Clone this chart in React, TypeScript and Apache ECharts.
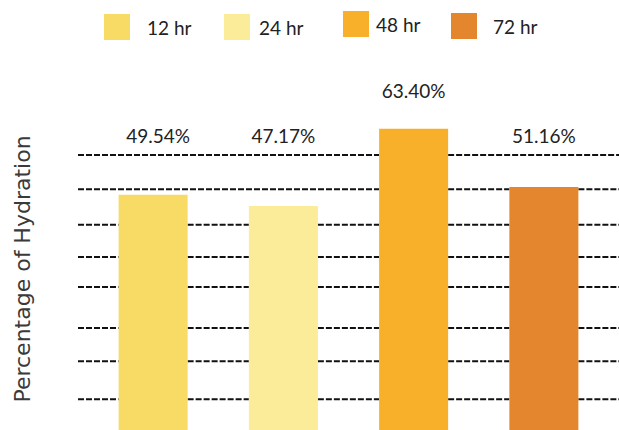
import React, { useEffect, useRef } from "react";
import * as echarts from "echarts";

const categories = ["12 hr", "24 hr", "48 hr", "72 hr"];
const hydration = [49.54, 47.17, 63.4, 51.16];
const gridLineValues = [57.9, 50.7, 43.2, 36.4, 30.1, 21.5, 14.5, 6.5];
const barColors = ["#F7DB64", "#FAEC98", "#F8B02A", "#E3862E"];
const yAxisTitle = "Percentage of Hydration";

const BAR_WIDTH = 69;
const LINE_OVERHANG = 10;
const labelDistance = [50, 61, 29, 42];
const labelOffsetX = [5, 0, 0, 0];
const legendLeft = [104, 224, 343, 451];
const legendTop = [14, 14, 11, 13];
const legendTextGap = [12, 4, 2, 11];

const FONT = "Lato, 'Open Sans', sans-serif";

export default function App() {
  const ref = useRef<HTMLDivElement>(null);
  useEffect(() => {
    if (!ref.current) return;
    const chart = echarts.init(ref.current, undefined, { renderer: "svg" });
    const barSeries = categories.map((name, i) => ({
      type: "bar",
      name,
      stack: "h",
      barWidth: BAR_WIDTH,
      z: 10,
      data: hydration.map((v, j) => (j === i ? v : "-")),
      itemStyle: { color: barColors[i] },
      label: {
        show: true,
        position: "top",
        distance: labelDistance[i],
        offset: [labelOffsetX[i], 0],
        fontFamily: FONT,
        fontSize: 19,
        color: "#222",
        formatter: (p: any) => Number(p.value).toFixed(2) + "%",
      },
    }));
    chart.setOption({
      animation: false,
      color: barColors,
      textStyle: { fontFamily: FONT },
      legend: categories.map((name, i) => ({
        data: [name],
        left: legendLeft[i],
        top: legendTop[i],
        padding: 0,
        itemWidth: 26,
        itemHeight: 26,
        icon: "rect",
        selectedMode: false,
        textStyle: {
          fontFamily: FONT,
          fontSize: 19,
          color: "#222",
          padding: [0, 0, 0, legendTextGap[i]],
        },
      })),
      graphic: [
        {
          type: "text",
          x: 22,
          y: 269,
          rotation: Math.PI / 2,
          style: {
            text: yAxisTitle,
            fontFamily: "'DejaVu Sans', sans-serif",
            fontSize: 22,
            fill: "#3a3a3a",
            align: "center",
            verticalAlign: "middle",
          },
        },
      ],
      grid: { left: 88, right: 10, top: 50, bottom: 0 },
      xAxis: { type: "category", data: categories, show: false },
      yAxis: {
        type: "value",
        min: 0,
        max: 80,
        axisLine: { show: false },
        axisTick: { show: false },
        axisLabel: { show: false },
        splitLine: { show: false },
      },
      series: [
        {
          type: "custom",
          name: "grid",
          z: 1,
          silent: true,
          clip: false,
          dimensions: ["value"],
          encode: { y: 0 },
          data: gridLineValues,
          renderItem: (params: any, api: any) => {
            const v = api.value(0);
            const y = api.coord([0, v])[1];
            const cs = params.coordSys;
            const half = BAR_WIDTH / 2;
            const edges: number[] = [cs.x - LINE_OVERHANG];
            categories.forEach((_, k) => {
              if (v < hydration[k]) {
                const cx = api.coord([k, 0])[0];
                edges.push(cx - half, cx + half);
              }
            });
            edges.push(cs.x + cs.width + LINE_OVERHANG);
            const children = [];
            for (let k = 0; k < edges.length; k += 2) {
              children.push({
                type: "line",
                shape: { x1: edges[k], y1: y, x2: edges[k + 1], y2: y },
                style: { stroke: "#111", lineWidth: 2, lineDash: [6, 2] },
              });
            }
            return { type: "group", children };
          },
        },
        ...barSeries,
      ],
    });
    return () => chart.dispose();
  }, []);
  return (
    <div
      ref={ref}
      style={{ position: "absolute", left: 0, top: 0, width: 619, height: 430 }}
    />
  );
}
